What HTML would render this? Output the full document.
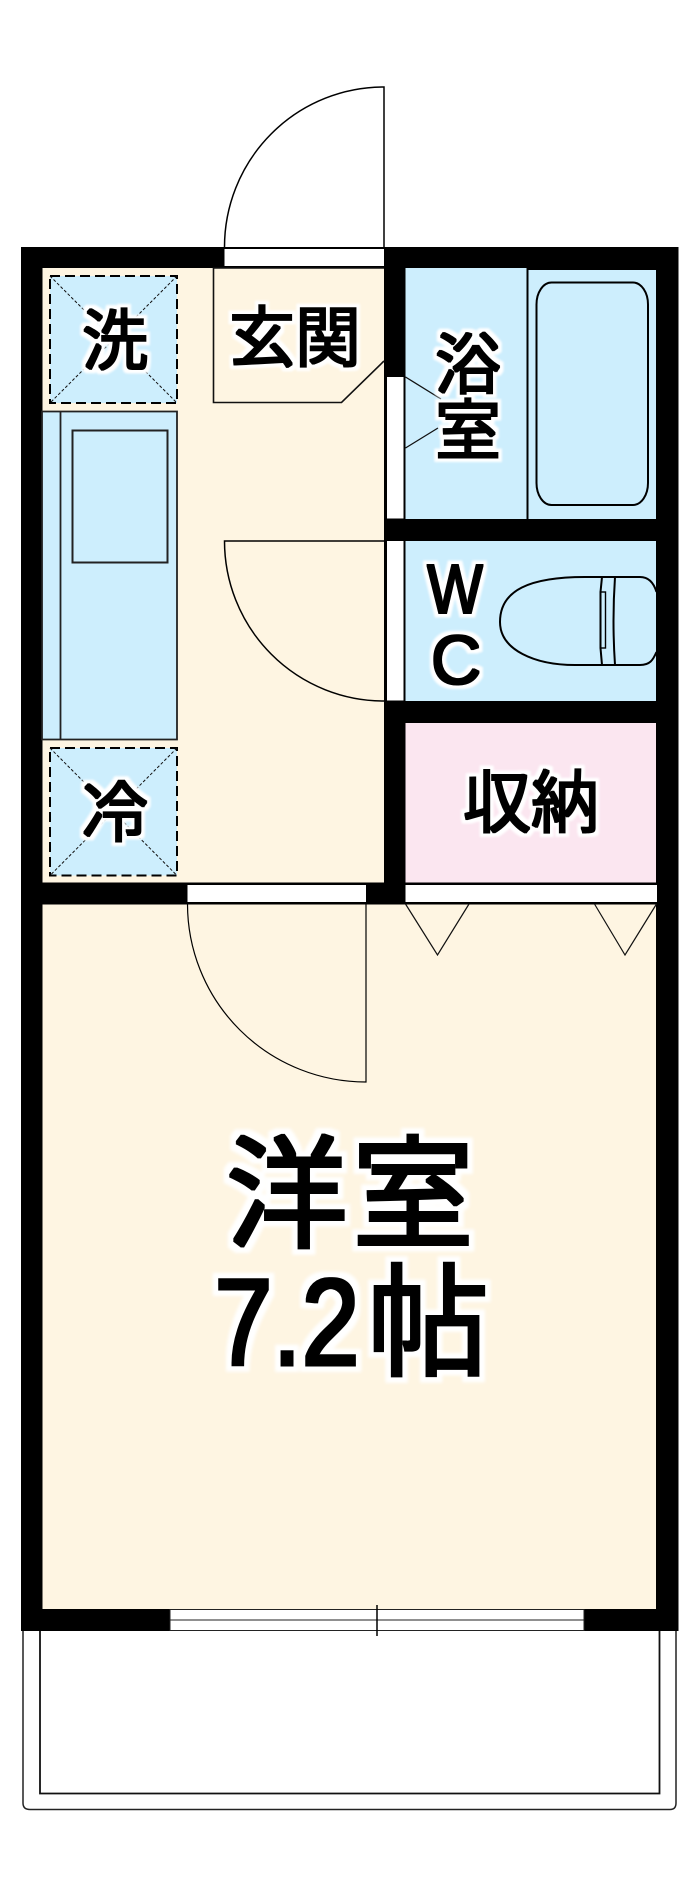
<!DOCTYPE html>
<html><head><meta charset="utf-8"><style>
html,body{margin:0;padding:0;background:#fff;width:700px;height:1889px;overflow:hidden}
svg{display:block}
text{font-family:"Liberation Sans","Noto Sans CJK JP",sans-serif;fill:#000;text-anchor:middle}
.c{font-family:"Noto Sans CJK JP","Liberation Sans",sans-serif}
</style></head><body>
<svg width="700" height="1889" viewBox="0 0 700 1889" xmlns="http://www.w3.org/2000/svg">
<defs>
<filter id="L" filterUnits="userSpaceOnUse" x="0" y="0" width="700" height="1889" color-interpolation-filters="sRGB">
<feMorphology in="SourceAlpha" operator="dilate" radius="1.500" result="b"/>
<feMorphology in="SourceAlpha" operator="dilate" radius="7" result="h0"/>
<feGaussianBlur in="h0" stdDeviation="1.500" result="h1"/>
<feFlood flood-color="#fff"/><feComposite in2="h1" operator="in" result="h"/>
<feMerge><feMergeNode in="h"/><feMergeNode in="b"/></feMerge>
</filter>
<filter id="S" filterUnits="userSpaceOnUse" x="0" y="0" width="700" height="1889" color-interpolation-filters="sRGB">
<feMorphology in="SourceAlpha" operator="dilate" radius="0.900" result="b"/>
<feMorphology in="SourceAlpha" operator="dilate" radius="4.500" result="h0"/>
<feGaussianBlur in="h0" stdDeviation="1" result="h1"/>
<feFlood flood-color="#fff"/><feComposite in2="h1" operator="in" result="h"/>
<feMerge><feMergeNode in="h"/><feMergeNode in="b"/></feMerge>
</filter>
</defs>
<rect width="700" height="1889" fill="#fff"/>
<!-- floors -->
<rect x="42" y="268" width="342" height="615" fill="#fef5e2"/>
<rect x="405" y="268" width="252" height="251" fill="#cdeefd"/>
<rect x="405" y="541" width="252" height="160" fill="#cdeefd"/>
<rect x="405" y="723" width="252" height="160" fill="#fbe6f0"/>
<rect x="42" y="904" width="615" height="706" fill="#fef5e2"/>
<!-- walls -->
<g fill="#000">
<rect x="21" y="247" width="657.500" height="21"/>
<rect x="21" y="247" width="21.500" height="1384"/>
<rect x="656" y="247" width="22.500" height="1384"/>
<rect x="21" y="1609" width="657.500" height="22"/>
<rect x="384" y="247" width="21.500" height="657"/>
<rect x="384" y="519" width="294.500" height="22"/>
<rect x="384" y="701" width="294.500" height="22"/>
<rect x="21" y="882.500" width="657.500" height="22"/>
<rect x="528" y="268" width="128" height="2"/>
</g>
<!-- openings -->
<g fill="#fff">
<rect x="224.500" y="249" width="159.500" height="17"/>
<rect x="387" y="377" width="16.500" height="141.500"/>
<rect x="387" y="541" width="16.500" height="159.500"/>
<rect x="187.500" y="885" width="178.500" height="17"/>
<rect x="405.500" y="885" width="251.500" height="17"/>
</g>
<!-- balcony -->
<path d="M23 1631V1803Q23 1809.500 30 1809.500H670Q676 1809.500 676 1803V1631" fill="none" stroke="#222" stroke-width="1.500"/>
<path d="M40 1631V1793.500H659.500V1631" fill="none" stroke="#111" stroke-width="1.800"/>
<!-- window -->
<rect x="170" y="1609.500" width="414" height="21" fill="#fff" stroke="#222" stroke-width="1"/>
<line x1="170" y1="1620" x2="584" y2="1620" stroke="#222" stroke-width="1"/>
<line x1="377" y1="1605" x2="377" y2="1636" stroke="#000" stroke-width="1.500"/>
<!-- entrance door -->
<path d="M224.500 247A159.500 160 0 0 1 384 87V247" fill="none" stroke="#000" stroke-width="1.500"/>
<!-- genkan -->
<path d="M384 268H213.500V402.500H341.500L384 361" fill="none" stroke="#111" stroke-width="1.600"/>
<!-- inner door -->
<path d="M384 541H224.500A159.500 160 0 0 0 384 701" fill="none" stroke="#000" stroke-width="1.500"/>
<!-- room door -->
<path d="M187.500 904A178.500 178 0 0 0 366 1082V904" fill="none" stroke="#000" stroke-width="1.200"/>
<!-- closet doors -->
<path d="M405.500 904L437.500 955L469 904M594.500 904L625 955L656.500 904" fill="none" stroke="#111" stroke-width="1.200"/>
<!-- bath -->
<line x1="527.500" y1="268" x2="527.500" y2="519" stroke="#000" stroke-width="2"/>
<rect x="536.500" y="282.500" width="111.500" height="222.500" rx="15" ry="22" fill="none" stroke="#000" stroke-width="2"/>
<path d="M405.500 377L441 399M405.500 448L438 428" stroke="#111" stroke-width="1.300" fill="none"/>
<!-- kitchen -->
<path d="M42 411.500H177V739.500H42Z" fill="#cdeefd" stroke="#222" stroke-width="1.800"/>
<line x1="60.500" y1="411.500" x2="60.500" y2="739.500" stroke="#222" stroke-width="1.800"/>
<rect x="72.500" y="430.500" width="95" height="132" fill="none" stroke="#222" stroke-width="2"/>
<!-- washer / fridge -->
<g fill="#cdeefd" stroke="#000" stroke-width="2" stroke-dasharray="10 5">
<rect x="50" y="276" width="127" height="127"/>
<rect x="50" y="748" width="127" height="127.500"/>
</g>
<g stroke="#111" stroke-width="1" stroke-dasharray="3 2" fill="none">
<path d="M50 276L177 403M177 276L50 403"/>
<path d="M50 748L177 875.500M177 748L50 875.500"/>
</g>
<!-- toilet -->
<g fill="none" stroke="#000" stroke-width="2">
<path d="M656.500 592Q652 577 640 577H585C530 577 500 590 500 622C500 650 535 665 575 665H640C650 665 653 660 656.500 652"/>
<path d="M615 577Q612 621 615 665"/>
<path d="M602 577L600.500 592V648L602 665"/>
<rect x="600.500" y="592" width="5" height="56" stroke-width="1.400"/>
</g>
<!-- labels -->
<g filter="url(#S)">
<text class="c" x="115" y="364" font-size="66">洗</text>
<text class="c" x="115" y="836" font-size="66">冷</text>
<text class="c" x="295" y="361" font-size="66">玄関</text>
<text class="c" x="468" y="388" font-size="66">浴</text>
<text class="c" x="468" y="454" font-size="66">室</text>
<text x="455" y="613" font-size="70" transform="translate(455 0) scale(.84 1) translate(-455 0)">W</text>
<text x="456" y="684" font-size="70">C</text>
<text class="c" x="531" y="827" font-size="68">収納</text>
</g>
<g filter="url(#L)">
<text class="c" x="287" y="1238" font-size="122">洋</text>
<text class="c" x="413" y="1238" font-size="122">室</text>
<text x="287" y="1365" font-size="123" transform="translate(287 0) scale(.85 1) translate(-287 0)">7.2</text>
<text class="c" x="428" y="1366" font-size="122">帖</text>
</g>
</svg>
</body></html>
